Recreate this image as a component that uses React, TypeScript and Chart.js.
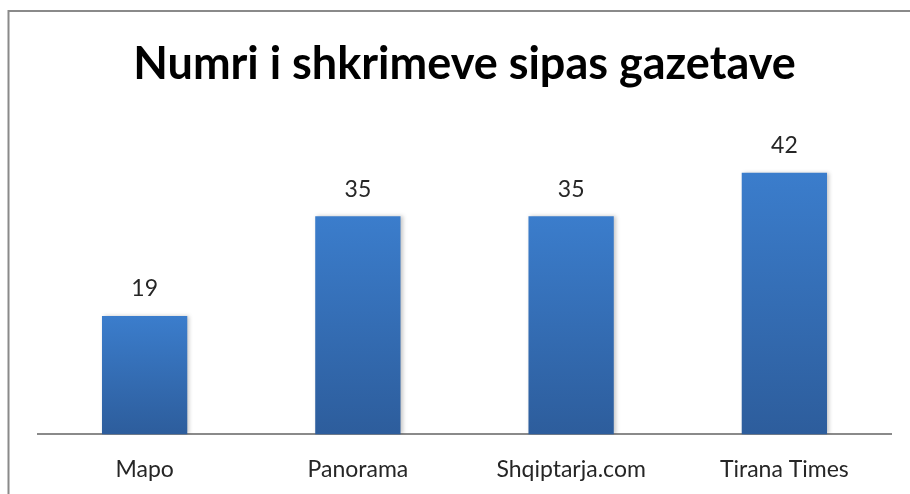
import React, { useEffect, useRef } from "react";
import { Chart, registerables } from "chart.js";

Chart.register(...registerables);

const TITLE = "Numri i shkrimeve sipas gazetave";
const categories = ["Mapo", "Panorama", "Shqiptarja.com", "Tirana Times"];
const values = [19, 35, 35, 42];
const Y_MAX = 45;

const FONT = "Lato, 'Open Sans', sans-serif";

export default function App() {
  const ref = useRef<HTMLCanvasElement | null>(null);

  useEffect(() => {
    if (!ref.current) return;

    const framePlugin = {
      id: "frame",
      beforeDraw(chart: any) {
        const ctx = chart.ctx;
        ctx.save();
        ctx.fillStyle = "#ffffff";
        ctx.fillRect(0, 0, chart.width, chart.height);
        ctx.strokeStyle = "#8a8a8a";
        ctx.lineWidth = 2;
        ctx.strokeRect(8.5, 11, chart.width + 20, chart.height + 20);
        ctx.restore();
      },
    };

    const shadowPlugin = {
      id: "barShadow",
      beforeDatasetsDraw(chart: any) {
        const ctx = chart.ctx;
        ctx.save();
        ctx.shadowColor = "rgba(0,0,0,0.22)";
        ctx.shadowBlur = 4;
        ctx.shadowOffsetX = 2;
        ctx.shadowOffsetY = 0;
      },
      afterDatasetsDraw(chart: any) {
        chart.ctx.restore();
      },
    };

    const labelPlugin = {
      id: "valueLabels",
      afterDatasetsDraw(chart: any) {
        const ctx = chart.ctx;
        const meta = chart.getDatasetMeta(0);
        ctx.save();
        ctx.fillStyle = "#262626";
        ctx.font = `23px ${FONT}`;
        ctx.textAlign = "center";
        ctx.textBaseline = "middle";
        meta.data.forEach((bar: any, i: number) => {
          ctx.fillText(String(values[i]), bar.x, bar.y - 27);
        });
        ctx.restore();
      },
    };

    const chart = new Chart(ref.current, {
      type: "bar",
      data: {
        labels: categories,
        datasets: [
          {
            data: values,
            backgroundColor: (c: any) => {
              const chart = c.chart;
              const area = chart.chartArea;
              const y = chart.scales && chart.scales.y;
              if (!area || !y || c.raw == null) return "#3470b8";
              const top = y.getPixelForValue(c.raw);
              const g = chart.ctx.createLinearGradient(0, top, 0, area.bottom);
              g.addColorStop(0, "#3b7dcc");
              g.addColorStop(1, "#2d5d9c");
              return g;
            },
            borderWidth: 0,
            barPercentage: 0.4,
            categoryPercentage: 1,
          },
        ],
      },
      options: {
        responsive: false,
        animation: false,
        layout: { padding: { left: 38, right: 19, top: 37, bottom: -10 } },
        plugins: {
          legend: { display: false },
          tooltip: { enabled: false },
          title: {
            display: true,
            text: TITLE,
            color: "#000000",
            font: { family: FONT, size: 45, weight: "bold", lineHeight: 1.2 },
            padding: { top: 0, bottom: 63 },
          },
        },
        scales: {
          x: {
            grid: { display: false, drawTicks: false },
            border: { display: true, color: "#8a8a8a", width: 2 },
            ticks: {
              color: "#262626",
              font: { family: FONT, size: 23 },
              padding: 21,
              maxRotation: 0,
            },
          },
          y: {
            display: false,
            min: 0,
            max: Y_MAX,
          },
        },
      },
      plugins: [framePlugin, shadowPlugin, labelPlugin],
    });

    return () => chart.destroy();
  }, []);

  return (
    <div style={{ position: "absolute", left: 0, top: 0, width: 910, height: 494 }}>
      <canvas ref={ref} width={910} height={494} />
    </div>
  );
}
